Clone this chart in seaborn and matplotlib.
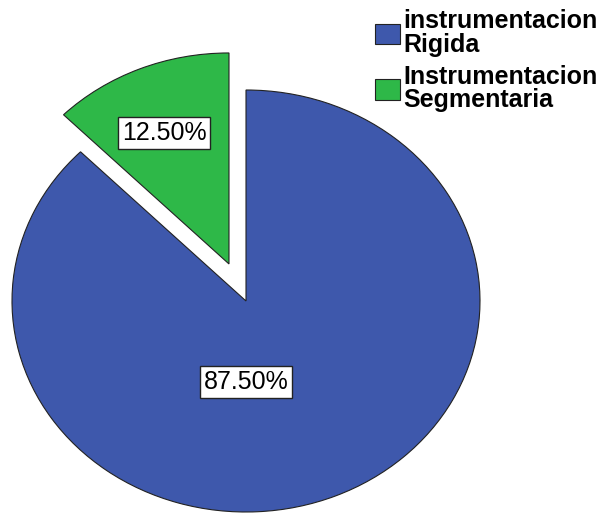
import matplotlib
matplotlib.use("Agg")
import matplotlib.pyplot as plt
import matplotlib.patches as mpatches
import seaborn as sns

# data
categories = ["instrumentacion\nRigida", "Instrumentacion\nSegmentaria"]
percentages = [87.5, 12.5]
explode = [0.0, 0.19]
colors = ["#3E58AC", "#2EB848"]

sns.set_theme(style="white")
plt.rcParams['font.family'] = ['Liberation Sans', 'DejaVu Sans']
plt.rcParams['text.color'] = 'black'

fig = plt.figure(figsize=(6.14, 5.14), dpi=100)
# pie is stretched horizontally like the original (234 px x 211 px per unit)
ax = fig.add_axes([12 / 614, 2 / 514, 468 / 614, 474.75 / 514])

wedges, _ = ax.pie(
    percentages,
    colors=colors,
    explode=explode,
    startangle=90,
    counterclock=False,
    wedgeprops=dict(edgecolor="#222222", linewidth=0.8),
)
ax.set_aspect("auto")
ax.set_xlim(-1, 1)
ax.set_ylim(-1, 1.25)
ax.axis("off")
for w in wedges:
    w.set_clip_on(False)

# percentage labels in white boxes
label_pos = [(0.0, -0.384), (-0.35, 0.796)]
for (x, y), v in zip(label_pos, percentages):
    ax.text(x, y, f"{v:.2f}%", ha="center", va="center", fontsize=18,
            color="black",
            bbox=dict(boxstyle="square,pad=0.15", fc="white", ec="#222222", lw=1))

handles = [mpatches.Patch(facecolor=c, edgecolor="#222222", linewidth=0.8)
           for c in colors]
leg = fig.legend(handles, categories, loc="upper left",
                 bbox_to_anchor=(375 / 614, 1 - 9 / 514),
                 frameon=False, fontsize=18, handlelength=1.0,
                 handleheight=0.9, handletextpad=0.12, labelspacing=0.3,
                 borderaxespad=0, borderpad=0)
for t in leg.get_texts():
    t.set_fontweight("bold")
    t.set_color("black")
    t.set_linespacing(1.0)

fig.savefig("out.png", dpi=100)
